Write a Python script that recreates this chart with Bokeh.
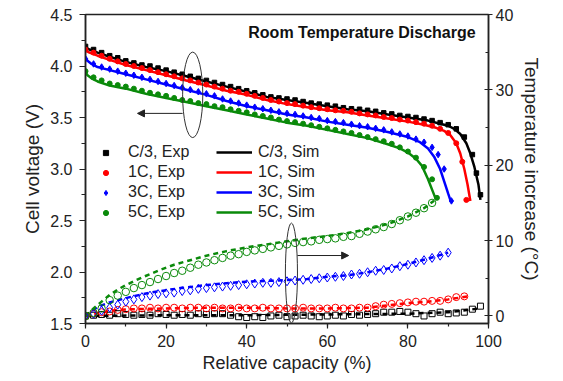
from bokeh.plotting import figure
from bokeh.models import (Range1d, LinearAxis, Legend, LegendItem, Arrow, NormalHead,
                          Label, SingleIntervalTicker, NumeralTickFormatter)
from bokeh.embed import file_html
from bokeh.resources import INLINE

# ---------------- data: voltage, simulation ----------------
x_c3_sim = [0, 1, 3, 6, 10, 15, 20, 25, 30, 35, 40, 45, 50, 55, 60, 65, 70, 75, 80, 85, 88, 90, 91.5, 93, 94.5, 95.5, 96.5, 97.5, 98]
v_c3_sim = [4.18, 4.16, 4.13, 4.09, 4.04, 3.99, 3.95, 3.90, 3.85, 3.80, 3.75, 3.70, 3.67, 3.64, 3.61, 3.58, 3.56, 3.53, 3.50, 3.47, 3.44, 3.42, 3.39, 3.34, 3.25, 3.15, 3.02, 2.85, 2.70]
x_1c_sim = [0, 1, 3, 6, 10, 15, 20, 25, 30, 35, 40, 45, 50, 55, 60, 65, 70, 75, 80, 84, 87, 89, 90.5, 92, 93, 94, 94.8, 95.5]
v_1c_sim = [4.15, 4.13, 4.10, 4.06, 4.01, 3.96, 3.91, 3.86, 3.81, 3.76, 3.72, 3.67, 3.63, 3.60, 3.57, 3.55, 3.52, 3.49, 3.46, 3.43, 3.40, 3.37, 3.33, 3.25, 3.15, 3.00, 2.85, 2.69]
x_3c_sim = [0, 0.5, 1.5, 3, 6, 10, 15, 20, 25, 30, 35, 40, 45, 50, 55, 60, 65, 70, 75, 80, 83, 85, 86.5, 88, 89, 90, 90.6]
v_3c_sim = [4.08, 4.05, 4.02, 3.99, 3.96, 3.92, 3.87, 3.82, 3.77, 3.72, 3.66, 3.61, 3.57, 3.53, 3.50, 3.46, 3.43, 3.40, 3.36, 3.31, 3.26, 3.20, 3.12, 3.00, 2.88, 2.76, 2.69]
x_5c_sim = [0, 0.5, 1.5, 3, 6, 10, 15, 20, 25, 30, 35, 40, 45, 50, 55, 60, 65, 70, 75, 78, 80, 82, 83.5, 85, 86, 86.8]
v_5c_sim = [3.94, 3.91, 3.88, 3.85, 3.81, 3.78, 3.73, 3.69, 3.65, 3.61, 3.57, 3.53, 3.49, 3.45, 3.42, 3.38, 3.34, 3.30, 3.24, 3.20, 3.16, 3.10, 3.03, 2.90, 2.80, 2.72]

# ---------------- data: voltage, experiment ----------------
x_c3_exp = [0, 2, 4, 6, 8, 10, 12, 14, 16, 18, 20, 22, 24, 26, 28, 30, 32, 34, 36, 38, 40, 42, 44, 46, 48,
            50, 52, 54, 56, 58, 60, 62, 64, 66, 68, 70, 72, 74, 76, 78, 80, 82, 84, 86, 88, 90, 92, 94, 96, 97, 98]
v_c3_exp = [4.19, 4.16, 4.13, 4.10, 4.08, 4.05, 4.03, 4.01, 4.00, 3.98, 3.96, 3.94, 3.92, 3.90, 3.88, 3.86, 3.84, 3.82, 3.80, 3.78,
            3.76, 3.74, 3.72, 3.70, 3.69, 3.68, 3.67, 3.655, 3.64, 3.63, 3.62, 3.61, 3.595, 3.585, 3.58, 3.57, 3.56, 3.545, 3.535, 3.52,
            3.51, 3.50, 3.485, 3.47, 3.45, 3.43, 3.39, 3.31, 3.14, 2.96, 2.75]
x_1c_exp = [0, 2, 4, 6, 8, 10, 12, 14, 16, 18, 20, 22, 24, 26, 28, 30, 32, 34, 36, 38, 40, 42, 44, 46, 48,
            50, 52, 54, 56, 58, 60, 62, 64, 66, 68, 70, 72, 74, 76, 78, 80, 82, 84, 86, 88, 90, 92, 93.5, 94.5]
v_1c_exp = [4.16, 4.13, 4.10, 4.07, 4.045, 4.02, 4.00, 3.98, 3.96, 3.94, 3.92, 3.90, 3.88, 3.86, 3.84, 3.82, 3.80, 3.78, 3.76, 3.75,
            3.73, 3.71, 3.69, 3.67, 3.655, 3.64, 3.63, 3.615, 3.60, 3.59, 3.58, 3.57, 3.565, 3.555, 3.54, 3.53, 3.52, 3.505, 3.495, 3.48,
            3.47, 3.455, 3.44, 3.42, 3.39, 3.35, 3.25, 3.07, 2.70]
x_3c_exp = [0, 2, 4, 6, 8, 10, 12, 14, 16, 18, 20, 22, 24, 26, 28, 30, 32, 34, 36, 38, 40, 42, 44, 46, 48,
            50, 52, 54, 56, 58, 60, 62, 64, 66, 68, 70, 72, 74, 76, 78, 80, 82, 84, 86, 87.5, 89, 90.8]
v_3c_exp = [4.07, 4.02, 3.99, 3.97, 3.95, 3.93, 3.91, 3.89, 3.87, 3.85, 3.83, 3.81, 3.79, 3.77, 3.75, 3.73, 3.71, 3.68, 3.66, 3.64,
            3.62, 3.60, 3.585, 3.57, 3.555, 3.54, 3.53, 3.515, 3.50, 3.49, 3.47, 3.46, 3.45, 3.435, 3.42, 3.41, 3.395, 3.38, 3.36, 3.34,
            3.32, 3.29, 3.26, 3.21, 3.14, 3.00, 2.69]
x_5c_exp = [0, 2, 4, 6, 8, 10, 12, 14, 16, 18, 20, 22, 24, 26, 28, 30, 32, 34, 36, 38, 40, 42, 44, 46, 48,
            50, 52, 54, 56, 58, 60, 62, 64, 66, 68, 70, 72, 74, 76, 78, 80, 82, 84, 86, 87.2]
v_5c_exp = [3.95, 3.89, 3.86, 3.83, 3.815, 3.80, 3.78, 3.76, 3.74, 3.725, 3.71, 3.69, 3.67, 3.66, 3.64, 3.63, 3.61, 3.60, 3.58, 3.565,
            3.55, 3.53, 3.515, 3.50, 3.48, 3.465, 3.455, 3.44, 3.425, 3.41, 3.395, 3.38, 3.365, 3.35, 3.33, 3.31, 3.29, 3.27, 3.245, 3.21,
            3.17, 3.11, 3.02, 2.90, 2.72]

# ---------------- data: temperature increase, simulation ----------------
x_c3_tsim = [0, 20, 40, 60, 80, 90, 98]
t_c3_tsim = [0.0, 0.1, 0.1, 0.2, 0.3, 0.5, 1.0]
x_1c_tsim = [0, 4, 8, 12, 20, 30, 40, 50, 60, 70, 75, 80, 85, 90, 95]
t_1c_tsim = [0.0, 0.5, 0.8, 0.9, 1.0, 1.1, 1.1, 1.0, 1.0, 1.1, 1.4, 1.7, 1.9, 2.2, 2.6]
x_3c_tsim = [0, 3, 6, 11, 16, 23.6, 30, 36, 42, 48, 55, 60, 65, 70, 75, 80, 85, 90]
t_3c_tsim = [0.0, 1.2, 1.8, 2.5, 3.1, 3.7, 4.1, 4.4, 4.6, 4.7, 4.9, 5.2, 5.4, 5.8, 6.3, 6.9, 7.6, 8.4]
x_5c_tsim = [0, 2, 4, 6, 8, 10, 14, 18, 22, 26, 30, 35, 40, 45, 50, 55, 60, 65, 70, 75, 80, 84, 86.5]
t_5c_tsim = [0.0, 1.0, 1.9, 2.8, 3.5, 4.1, 5.1, 6.0, 6.8, 7.4, 8.0, 8.6, 9.1, 9.5, 9.9, 10.3, 10.6, 11.0, 11.5, 12.2, 13.2, 14.3, 15.3]

# ---------------- data: temperature increase, experiment ----------------
x_c3_texp = [0, 2, 4, 6, 8, 10, 12, 14, 16, 18, 20, 22, 24, 26, 28, 30, 32, 34, 36, 38, 40, 42, 44, 46, 48,
             50, 52, 54, 56, 58, 60, 62, 64, 66, 68, 70, 72, 74, 76, 78, 80, 82, 84, 86, 88, 90, 92, 94, 96, 98]
t_c3_texp = [0.0, 0.1, 0.2, 0.1, 0.3, 0.2, 0.1, 0.2, 0.1, 0.3, 0.2, 0.1, 0.2, 0.1, 0.3, 0.2, 0.3, 0.3, 0.1, -0.1,
             -0.2, -0.1, -0.2, 0.0, 0.1, -0.1, 0.0, 0.1, 0.0, -0.1, 0.0, 0.1, 0.0, 0.2, 0.1, 0.2, 0.3, 0.5, 0.5, 0.6,
             0.5, 0.3, 0.0, 0.3, 0.5, 0.3, 0.4, 0.5, 0.9, 1.3]
x_1c_texp = [0, 2, 4, 6, 8, 10, 12, 14, 16, 18, 20, 22, 24, 26, 28, 30, 32, 34, 36, 38, 40, 42, 44, 46, 48,
             50, 52, 54, 56, 58, 60, 62, 64, 66, 68, 70, 72, 74, 76, 78, 80, 82, 84, 86, 88, 90, 92, 94]
t_1c_texp = [0.0, 0.3, 0.5, 0.6, 0.8, 0.9, 1.0, 1.0, 1.1, 1.0, 1.1, 1.1, 1.0, 1.1, 1.1, 1.0, 1.1, 1.0, 1.0, 1.1,
             1.0, 1.0, 1.1, 1.0, 1.0, 1.0, 1.0, 1.1, 1.0, 1.0, 1.0, 1.1, 1.0, 1.0, 1.1, 1.1, 1.3, 1.5, 1.6, 1.7,
             1.8, 1.9, 1.9, 2.0, 2.0, 2.2, 2.5, 2.6]
x_3c_texp = [0, 2, 4, 6, 8, 10, 12, 14, 16, 18, 20, 22, 24, 26, 28, 30, 32, 34, 36, 38, 40, 42, 44, 46, 48,
             50, 52, 54, 56, 58, 60, 62, 64, 66, 68, 70, 72, 74, 76, 78, 80, 82, 84, 86, 88, 90]
t_3c_texp = [0.0, 0.3, 0.7, 1.1, 1.5, 1.9, 2.2, 2.5, 2.7, 2.9, 3.0, 3.1, 3.3, 3.4, 3.6, 3.7, 3.8, 3.9, 4.0, 4.1,
             4.2, 4.3, 4.4, 4.4, 4.5, 4.6, 4.7, 4.8, 4.9, 5.0, 5.1, 5.2, 5.3, 5.5, 5.6, 5.8, 6.0, 6.1, 6.3, 6.6,
             6.8, 7.1, 7.4, 7.7, 8.0, 8.4]
x_5c_texp = [0, 2, 4, 6, 8, 10, 12, 14, 16, 18, 20, 22, 24, 26, 28, 30, 32, 34, 36, 38, 40, 42, 44, 46, 48,
             50, 52, 54, 56, 58, 60, 62, 64, 66, 68, 70, 72, 74, 76, 78, 80, 82, 84, 86]
t_5c_texp = [0.0, 0.4, 1.0, 2.1, 2.7, 3.2, 3.7, 4.1, 4.5, 4.9, 5.3, 5.7, 6.0, 6.4, 6.8, 7.1, 7.4, 7.7, 8.0, 8.2,
             8.5, 8.7, 8.9, 9.1, 9.3, 9.5, 9.7, 9.8, 9.9, 10.1, 10.2, 10.3, 10.5, 10.6, 10.9, 11.2, 11.5, 11.8, 12.2, 12.7,
             13.2, 13.7, 14.3, 15.0]

exp_labels = ["C/3, Exp", "1C, Exp", "3C, Exp", "5C, Exp"]
sim_labels = ["C/3, Sim", "1C, Sim", "3C, Sim", "5C, Sim"]
title_text = "Room Temperature Discharge"

# ---------------- styles ----------------
BLACK, RED, BLUE, GREEN = "#000000", "#ff0000", "#0000ff", "#0a8a0a"
FONT = "Liberation Sans"

p = figure(frame_width=403, frame_height=309,
           x_range=Range1d(0, 100), y_range=Range1d(1.5, 4.5),
           output_backend="svg", toolbar_location=None,
           min_border_left=85, min_border_right=62, min_border_top=14, min_border_bottom=46,
           background_fill_color="white", border_fill_color="white")
p.extra_y_ranges = {"temp": Range1d(-1, 40)}
p.grid.visible = False
p.outline_line_color = "#222222"
p.outline_line_width = 1.5


def style_axis(ax, label_size):
    ax.axis_line_color = "#222222"
    ax.axis_line_width = 1.5
    ax.major_tick_line_color = "#222222"
    ax.minor_tick_line_color = "#222222"
    ax.major_tick_line_width = 1.2
    ax.minor_tick_line_width = 1.2
    ax.major_label_text_font = FONT
    ax.major_label_text_font_size = "16px"
    ax.major_label_text_color = "#222222"
    ax.axis_label_text_font = FONT
    ax.axis_label_text_font_size = label_size
    ax.axis_label_text_font_style = "normal"
    ax.axis_label_text_color = "#222222"


xa = p.xaxis[0]
xa.ticker = SingleIntervalTicker(interval=20, num_minor_ticks=2)
xa.axis_label = "Relative capacity (%)"
style_axis(xa, "18px")
xa.major_tick_out, xa.major_tick_in = 5, 0
xa.minor_tick_out, xa.minor_tick_in = 3, 0
xa.major_label_standoff = 6
xa.axis_label_standoff = 3

ya = p.yaxis[0]
ya.ticker = SingleIntervalTicker(interval=0.5, num_minor_ticks=2)
ya.formatter = NumeralTickFormatter(format="0.0")
ya.axis_label = "Cell voltage (V)"
style_axis(ya, "19px")
ya.major_tick_out, ya.major_tick_in = 6, 0
ya.minor_tick_out, ya.minor_tick_in = 4, 0
ya.major_label_standoff = 7
ya.axis_label_standoff = 4

ra = LinearAxis(y_range_name="temp", ticker=SingleIntervalTicker(interval=10, num_minor_ticks=2),
                axis_label="Temperature increase (°C)")
style_axis(ra, "19px")
ra.major_tick_out, ra.major_tick_in = 4, 4
ra.minor_tick_out, ra.minor_tick_in = 0, 3
ra.major_label_standoff = 3
ra.axis_label_standoff = 5
p.add_layout(ra, "right")

# ---------------- temperature (right axis) ----------------
for xs, ts, c in [(x_c3_tsim, t_c3_tsim, BLACK), (x_1c_tsim, t_1c_tsim, RED),
                  (x_3c_tsim, t_3c_tsim, BLUE), (x_5c_tsim, t_5c_tsim, GREEN)]:
    p.line(xs, ts, y_range_name="temp", line_color=c, line_width=2.5, line_dash="5 4")

p.scatter(x_c3_texp, t_c3_texp, y_range_name="temp", marker="square", size=6,
          fill_color=None, line_color=BLACK, line_width=1)
p.scatter(x_1c_texp, t_1c_texp, y_range_name="temp", marker="circle", size=7,
          fill_color=None, line_color=RED, line_width=1)
p.scatter(x_3c_texp, t_3c_texp, y_range_name="temp", marker="diamond", size=9,
          fill_color=None, line_color=BLUE, line_width=1)
p.scatter(x_5c_texp, t_5c_texp, y_range_name="temp", marker="circle", size=7.5,
          fill_color=None, line_color=GREEN, line_width=1)

# ---------------- voltage (left axis) ----------------
sim_r = []
for xs, vs, c in [(x_c3_sim, v_c3_sim, BLACK), (x_1c_sim, v_1c_sim, RED),
                  (x_3c_sim, v_3c_sim, BLUE), (x_5c_sim, v_5c_sim, GREEN)]:
    sim_r.append(p.line(xs, vs, line_color=c, line_width=2.5))

exp_r = []
exp_r.append(p.scatter(x_c3_exp, v_c3_exp, marker="square", size=4.5, color=BLACK))
exp_r.append(p.scatter(x_1c_exp, v_1c_exp, marker="circle", size=5, color=RED))
exp_r.append(p.scatter(x_3c_exp, v_3c_exp, marker="diamond", size=6.5, color=BLUE))
exp_r.append(p.scatter(x_5c_exp, v_5c_exp, marker="circle", size=5, color=GREEN))

# ---------------- annotations ----------------
p.ellipse(x=26.6, y=3.72, width=5.0, height=0.83, fill_color=None, line_color="#333333", line_width=1)
p.ellipse(x=51.1, y=1.99, width=3.0, height=0.97, fill_color=None, line_color="#333333", line_width=1)
p.add_layout(Arrow(x_start=24.1, y_start=3.54, x_end=12.9, y_end=3.54, line_width=1, line_color="#222222",
                   end=NormalHead(size=7, fill_color="#222222", line_color="#222222")))
p.add_layout(Arrow(x_start=52.6, y_start=2.16, x_end=65.3, y_end=2.16, line_width=1, line_color="#222222",
                   end=NormalHead(size=7, fill_color="#222222", line_color="#222222")))
p.add_layout(Label(x=96.8, y=4.325, text=title_text, text_align="right", text_baseline="middle",
                   text_font=FONT, text_font_size="16px", text_font_style="bold", text_color="#111111"))

# ---------------- legends ----------------
def make_legend(labels, rends, loc, gw, gh, standoff):
    lg = Legend(items=[LegendItem(label=l, renderers=[r]) for l, r in zip(labels, rends)],
                location=loc, orientation="vertical",
                glyph_width=gw, glyph_height=gh, label_height=20, spacing=0, padding=0, margin=0,
                label_standoff=standoff, border_line_color=None, background_fill_alpha=0,
                label_text_font=FONT, label_text_font_size="16px", label_text_color="#222222")
    return lg

p.add_layout(make_legend(exp_labels, exp_r, (14, 101), 13, 13, 16))
p.add_layout(make_legend(sim_labels, sim_r, (131, 101), 36, 20, 6))

open("out.html", "w").write(file_html(p, INLINE))
